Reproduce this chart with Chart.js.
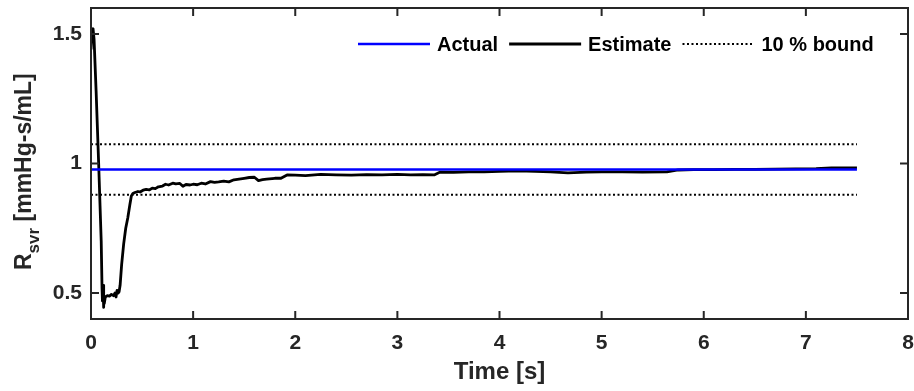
<!DOCTYPE html>
<html>
<head>
<meta charset="utf-8">
<script src="https://cdn.jsdelivr.net/npm/chart.js@4/dist/chart.umd.min.js"></script>
<style>
  html, body { margin: 0; padding: 0; background: #ffffff; }
  #wrap { width: 914px; height: 391px; }
</style>
</head>
<body>
<div id="wrap"><canvas id="c" width="914" height="391"></canvas></div>
<script>
// Systemic vascular resistance: true value, running estimate and ±10 % band
const actualTime  = [0, 7.5];
const actualValue = [0.977, 0.977];

const boundTime  = [0, 7.5];
const upperBound = [1.0747, 1.0747];
const lowerBound = [0.8793, 0.8793];

const estimateTime = [
  0, 0.01, 0.02, 0.03, 0.05, 0.075, 0.1, 0.108, 0.112, 0.118, 0.122, 0.126, 0.13, 0.14,
  0.16, 0.18, 0.2, 0.22, 0.235, 0.245, 0.255, 0.265, 0.275, 0.285, 0.3, 0.32, 0.34,
  0.36, 0.38, 0.395, 0.41, 0.43, 0.46, 0.48, 0.51, 0.54, 0.57, 0.6, 0.63, 0.66, 0.7,
  0.73, 0.76, 0.8, 0.83, 0.87, 0.9, 0.93, 0.97, 1.0, 1.04, 1.08, 1.12, 1.17, 1.21,
  1.25, 1.3, 1.35, 1.4, 1.45, 1.5, 1.55, 1.6, 1.64, 1.68, 1.72, 1.8, 1.86,
  1.92, 2.0, 2.1, 2.25, 2.4, 2.55, 2.7, 2.85, 3.0, 3.13, 3.25, 3.36, 3.42, 3.55, 3.7,
  3.85, 4.0, 4.18, 4.35, 4.5, 4.67, 4.85, 5.0, 5.2, 5.4, 5.64, 5.75, 5.9, 6.1, 6.3,
  6.5, 6.7, 6.9, 7.1, 7.25, 7.4, 7.5
];
const estimateValue = [
  1.44, 1.51, 1.52, 1.48, 1.28, 1.0, 0.7, 0.52, 0.47, 0.53, 0.445, 0.47, 0.46, 0.485,
  0.49, 0.488, 0.495, 0.49, 0.5, 0.485, 0.51, 0.5, 0.505, 0.53, 0.61, 0.69, 0.75,
  0.79, 0.84, 0.875, 0.884, 0.888, 0.892, 0.89, 0.897, 0.9, 0.898, 0.905, 0.903, 0.91, 0.913,
  0.92, 0.917, 0.924, 0.921, 0.923, 0.912, 0.919, 0.917, 0.92, 0.918, 0.924, 0.921, 0.93, 0.927,
  0.929, 0.932, 0.929, 0.937, 0.94, 0.943, 0.946, 0.947, 0.934, 0.938, 0.94, 0.943, 0.943,
  0.956, 0.955, 0.953, 0.958, 0.956, 0.955, 0.957, 0.956, 0.958, 0.956, 0.957, 0.956, 0.967, 0.966, 0.968,
  0.968, 0.97, 0.972, 0.97, 0.968, 0.964, 0.967, 0.968, 0.968, 0.967, 0.968, 0.975, 0.976, 0.976, 0.977,
  0.977, 0.978, 0.979, 0.98, 0.983, 0.983, 0.983
];

const xTicks = [0, 1, 2, 3, 4, 5, 6, 7, 8];
const yTicks = [0.5, 1, 1.5];

const pts = (xs, ys) => xs.map((x, i) => ({ x: x, y: ys[i] }));

const AXIS_COLOR = '#262626';
const FONT = '"Liberation Sans", Arial, Helvetica, sans-serif';

// Box, inward tick marks on all four sides, in-axes legend and the y title
const framePlugin = {
  id: 'frame',
  afterDraw(chart) {
    const { ctx, chartArea: a, scales } = chart;
    ctx.save();
    ctx.strokeStyle = AXIS_COLOR;
    ctx.lineWidth = 2;
    ctx.strokeRect(a.left, a.top, a.right - a.left, a.bottom - a.top);
    const tl = 8;
    ctx.beginPath();
    xTicks.forEach(v => {
      const px = scales.x.getPixelForValue(v);
      ctx.moveTo(px, a.bottom); ctx.lineTo(px, a.bottom - tl);
      ctx.moveTo(px, a.top); ctx.lineTo(px, a.top + tl);
    });
    yTicks.forEach(v => {
      const py = scales.y.getPixelForValue(v);
      ctx.moveTo(a.left, py); ctx.lineTo(a.left + tl, py);
      ctx.moveTo(a.right, py); ctx.lineTo(a.right - tl, py);
    });
    ctx.stroke();

    // legend
    const items = chart.data.datasets.filter(d => d.inLegend);
    ctx.font = 'bold 20px ' + FONT;
    ctx.textBaseline = 'middle';
    ctx.textAlign = 'left';
    let x = 358;
    const y = 44;
    items.forEach(d => {
      const len = 72;
      ctx.beginPath();
      ctx.strokeStyle = d.borderColor;
      ctx.lineWidth = d.borderWidth;
      ctx.setLineDash(d.borderDash || []);
      ctx.moveTo(x, y); ctx.lineTo(x + len, y);
      ctx.stroke();
      ctx.setLineDash([]);
      x += len + 7;
      ctx.fillStyle = '#000000';
      ctx.fillText(d.label, x, y + 1);
      x += ctx.measureText(d.label).width + 11;
    });

    // y-axis title with subscript
    ctx.save();
    ctx.translate(31, 270);
    ctx.rotate(-Math.PI / 2);
    ctx.fillStyle = AXIS_COLOR;
    ctx.textBaseline = 'alphabetic';
    ctx.textAlign = 'left';
    const big = 'bold 23px ' + FONT, small = 'bold 17px ' + FONT;
    let tx = 0;
    ctx.font = big;
    ctx.fillText('R', tx, 0);
    tx += ctx.measureText('R').width;
    ctx.font = small;
    ctx.fillText('svr', tx, 8);
    tx += ctx.measureText('svr').width;
    ctx.font = big;
    ctx.fillText(' [mmHg-s/mL]', tx, 0);
    ctx.restore();

    ctx.restore();
  }
};

new Chart(document.getElementById('c'), {
  type: 'scatter',
  data: {
    datasets: [
      { label: 'Actual', data: pts(actualTime, actualValue), borderColor: '#0000ff',
        borderWidth: 2.4, inLegend: true },
      { label: 'Estimate', data: pts(estimateTime, estimateValue), borderColor: '#000000',
        borderWidth: 2.8, inLegend: true },
      { label: '10 % bound', data: pts(boundTime, upperBound), borderColor: '#000000',
        borderWidth: 2, borderDash: [2, 2.5], inLegend: true },
      { label: '10 % bound (lower)', data: pts(boundTime, lowerBound), borderColor: '#000000',
        borderWidth: 2, borderDash: [2, 2.5], inLegend: false }
    ].map(d => Object.assign({ showLine: true, pointRadius: 0, pointHoverRadius: 0,
      fill: false, tension: 0, backgroundColor: d.borderColor, borderCapStyle: 'butt',
      borderJoinStyle: 'round' }, d))
  },
  options: {
    responsive: false,
    devicePixelRatio: 1,
    animation: false,
    layout: { padding: { left: 0, right: 6, top: 8, bottom: 0 } },
    plugins: { legend: { display: false }, tooltip: { enabled: false } },
    scales: {
      x: {
        type: 'linear', min: 0, max: 8,
        afterBuildTicks: s => { s.ticks = xTicks.map(v => ({ value: v })); },
        afterFit: s => { s.height = 72; s.paddingLeft = 0; s.paddingRight = 0; },
        grid: { display: false, drawTicks: false },
        border: { display: false },
        ticks: { color: AXIS_COLOR, font: { family: FONT, size: 21, weight: 'bold' },
          padding: 12, maxRotation: 0, callback: v => String(v) },
        title: { display: true, text: 'Time [s]', color: AXIS_COLOR,
          font: { family: FONT, size: 24, weight: 'bold' }, padding: { top: 0, bottom: 4 } }
      },
      y: {
        type: 'linear', min: 0.4, max: 1.6,
        afterBuildTicks: s => { s.ticks = yTicks.map(v => ({ value: v })); },
        afterFit: s => { s.width = 91; s.paddingTop = 0; s.paddingBottom = 0; },
        grid: { display: false, drawTicks: false },
        border: { display: false },
        ticks: { color: AXIS_COLOR, font: { family: FONT, size: 21, weight: 'bold' },
          padding: 9, callback: v => String(v) }
      }
    }
  },
  plugins: [framePlugin]
});
</script>
</body>
</html>
